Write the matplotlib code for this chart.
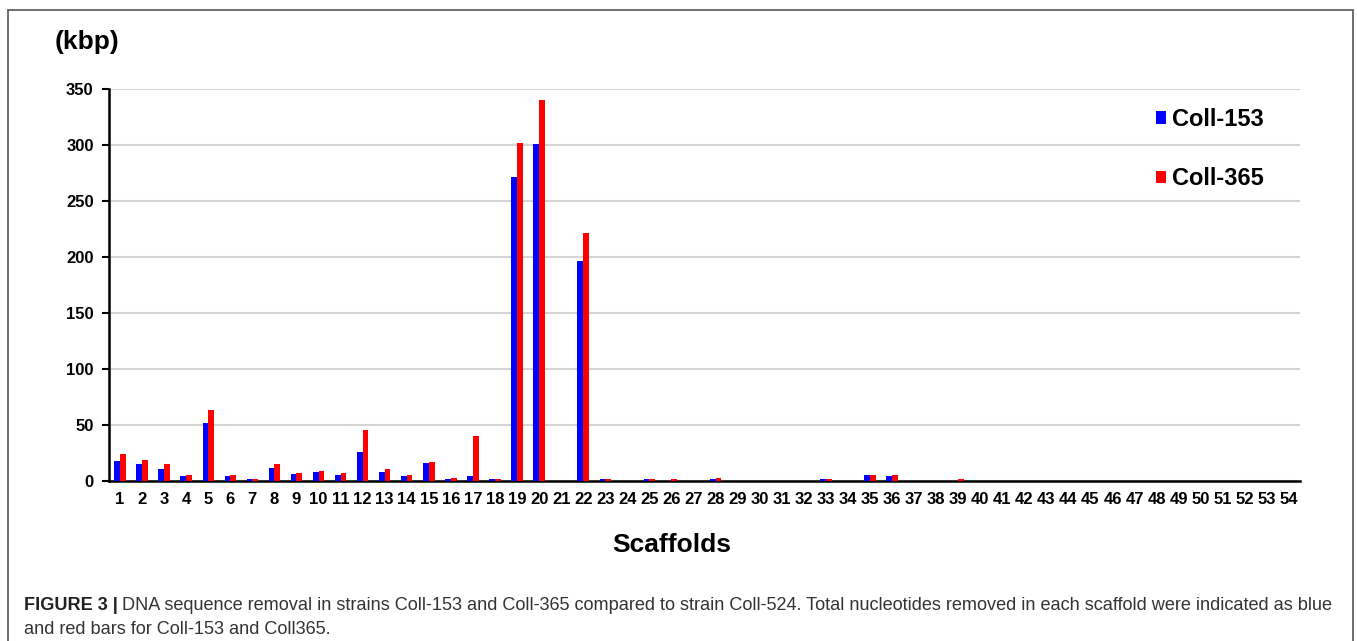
import matplotlib.pyplot as plt
from matplotlib.patches import Rectangle
import numpy as np

plt.rcParams['font.family'] = ['Liberation Sans', 'DejaVu Sans']

# Removed sequence per scaffold (kbp)
scaffolds = list(range(1, 55))
coll_153 = [18, 15, 11, 4.5, 51.5, 4.5, 1.5, 12, 6.5, 8.3, 5.4, 25.6, 8.3, 4.5, 16, 1.5, 4.5, 1.5,
            271, 301, 0, 196, 1.5, 0, 1.5, 0, 0, 1.5, 0, 0, 0, 0, 1.5, 0, 5, 4.2, 0, 0, 0] + [0] * 15
coll_365 = [24, 19, 15, 5, 63, 5, 1.5, 15, 7, 8.9, 7, 45.5, 11, 5, 17, 2.4, 40, 1.5,
            302, 340, 0, 221, 1.5, 0, 1.5, 1.5, 0, 2.5, 0, 0, 0, 0, 1.5, 0, 5, 5.3, 0, 0, 2] + [0] * 15
yticks = [0, 50, 100, 150, 200, 250, 300, 350]

W, H = 1357, 641
fig = plt.figure(figsize=(W / 100, H / 100), dpi=100)
ax = fig.add_axes([109 / W, 1 - 481 / H, 1191 / W, 392 / H])

x = np.array(scaffolds)
bw = 0.26
ax.bar(x - bw / 2, coll_153, width=bw, color='#0000FF', label='Coll-153', zorder=3)
ax.bar(x + bw / 2, coll_365, width=bw, color='#FF0000', label='Coll-365', zorder=3)

ax.set_xlim(0.5, 54.5)
ax.set_ylim(0, 350)
ax.set_yticks(yticks)
ax.set_xticks(x)
ax.set_xticklabels([str(s) for s in scaffolds])
ax.yaxis.grid(True, color='#d4d4d4', linewidth=1.5, zorder=0)
ax.set_axisbelow(True)
for s in ['top', 'right']:
    ax.spines[s].set_visible(False)
for s in ['left', 'bottom']:
    ax.spines[s].set_linewidth(1.8)
    ax.spines[s].set_color('black')
ax.tick_params(axis='y', length=5, width=1.5, pad=6, labelsize=12)
ax.tick_params(axis='x', length=0, pad=8, labelsize=12)
for lbl in ax.get_xticklabels() + ax.get_yticklabels():
    lbl.set_fontweight('bold')

ax.legend(loc='upper left', bbox_to_anchor=(1144 / W, 1 - 96 / H), bbox_transform=fig.transFigure,
          frameon=False, prop={'size': 17, 'weight': 'bold'}, handlelength=0.45, handleheight=0.45,
          handletextpad=0.25, labelspacing=1.55, borderpad=0)

fig.text(55 / W, 1 - 42 / H, '(kbp)', fontsize=19, fontweight='bold', va='center', ha='left')
fig.text(672 / W, 1 - 545 / H, 'Scaffolds', fontsize=19, fontweight='bold', va='center', ha='center')

# outer frame around chart and caption
fig.patches.append(Rectangle((8 / W, -0.01), (1353 - 8) / W, 1 - 10 / H + 0.01,
                             transform=fig.transFigure, fill=False, edgecolor='#555555', linewidth=1.2))

# caption: first line sized so it runs to the right margin
cap_color = '#333333'
cap1 = ('DNA sequence removal in strains Coll-153 and Coll-365 compared to strain Coll-524. '
        'Total nucleotides removed in each scaffold were indicated as blue')
cap2 = 'and red bars for Coll-153 and Coll365.'
fs = 10.0
t1 = fig.text(24 / W, 1 - 606 / H, 'FIGURE 3 |', fontsize=fs, fontweight='bold', color='#222222',
              va='center', ha='left')
fig.canvas.draw()
bb = t1.get_window_extent()
t2 = fig.text((bb.x1 + 4) / W, 1 - 606 / H, cap1, fontsize=fs, color=cap_color, va='center', ha='left')
fig.canvas.draw()
bb2 = t2.get_window_extent()
scale = (1340 - bb.x0) / (bb2.x1 - bb.x0)
fs *= scale
t1.set_fontsize(fs)
fig.canvas.draw()
bb = t1.get_window_extent()
t2.set_fontsize(fs)
t2.set_x((bb.x1 + 4) / W)
fig.text(24 / W, 1 - 629 / H, cap2, fontsize=fs, color=cap_color, va='center', ha='left')

fig.savefig('out.png', dpi=100)
